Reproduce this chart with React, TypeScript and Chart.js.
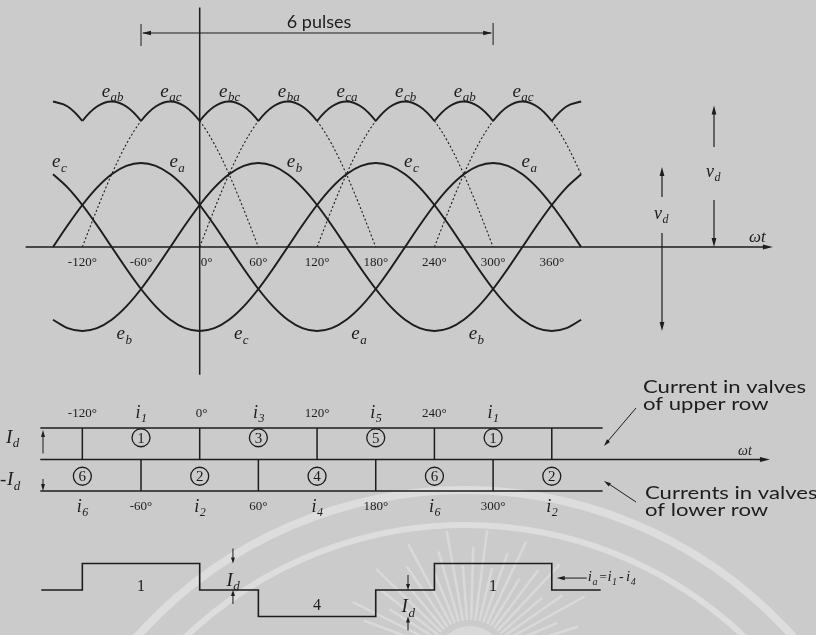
import { useEffect, useRef } from "react";
import { Chart, registerables } from "chart.js";

Chart.register(...registerables);

const W = 816;
const H = 635;
const BG = "#cbcbcb";
const INK = "#1d1d1d";
const SERIF = '"Liberation Serif", "DejaVu Serif", serif';
const SANS = 'Lato, "Open Sans", sans-serif';

// ωt sampling grid, degrees
const wt = [-150, -135, -120, -105, -90, -75, -60, -45, -30, -15, 0, 15, 30, 45, 60, 75, 90, 105, 120, 135, 150, 165, 180, 195, 210, 225, 240, 255, 270, 285, 300, 315, 330, 345, 360, 375, 390];

// phase voltages (per unit of phase peak)
const eA = [0, 0.259, 0.5, 0.707, 0.866, 0.966, 1, 0.966, 0.866, 0.707, 0.5, 0.259, 0, -0.259, -0.5, -0.707, -0.866, -0.966, -1, -0.966, -0.866, -0.707, -0.5, -0.259, 0, 0.259, 0.5, 0.707, 0.866, 0.966, 1, 0.966, 0.866, 0.707, 0.5, 0.259, 0];
const eB = [-0.866, -0.966, -1, -0.966, -0.866, -0.707, -0.5, -0.259, 0, 0.259, 0.5, 0.707, 0.866, 0.966, 1, 0.966, 0.866, 0.707, 0.5, 0.259, 0, -0.259, -0.5, -0.707, -0.866, -0.966, -1, -0.966, -0.866, -0.707, -0.5, -0.259, 0, 0.259, 0.5, 0.707, 0.866];
const eC = [0.866, 0.707, 0.5, 0.259, 0, -0.259, -0.5, -0.707, -0.866, -0.966, -1, -0.966, -0.866, -0.707, -0.5, -0.259, 0, 0.259, 0.5, 0.707, 0.866, 0.966, 1, 0.966, 0.866, 0.707, 0.5, 0.259, 0, -0.259, -0.5, -0.707, -0.866, -0.966, -1, -0.966, -0.866];

// line-to-line voltages (same per-unit base)
const eAB = [0.866, 1.225, 1.5, 1.673, 1.732, 1.673, 1.5, 1.225, 0.866, 0.448, 0, -0.448, -0.866, -1.225, -1.5, -1.673, -1.732, -1.673, -1.5, -1.225, -0.866, -0.448, 0, 0.448, 0.866, 1.225, 1.5, 1.673, 1.732, 1.673, 1.5, 1.225, 0.866, 0.448, 0, -0.448, -0.866];
const eBA = [-0.866, -1.225, -1.5, -1.673, -1.732, -1.673, -1.5, -1.225, -0.866, -0.448, 0, 0.448, 0.866, 1.225, 1.5, 1.673, 1.732, 1.673, 1.5, 1.225, 0.866, 0.448, 0, -0.448, -0.866, -1.225, -1.5, -1.673, -1.732, -1.673, -1.5, -1.225, -0.866, -0.448, 0, 0.448, 0.866];
const eAC = [-0.866, -0.448, 0, 0.448, 0.866, 1.225, 1.5, 1.673, 1.732, 1.673, 1.5, 1.225, 0.866, 0.448, 0, -0.448, -0.866, -1.225, -1.5, -1.673, -1.732, -1.673, -1.5, -1.225, -0.866, -0.448, 0, 0.448, 0.866, 1.225, 1.5, 1.673, 1.732, 1.673, 1.5, 1.225, 0.866];
const eCA = [0.866, 0.448, 0, -0.448, -0.866, -1.225, -1.5, -1.673, -1.732, -1.673, -1.5, -1.225, -0.866, -0.448, 0, 0.448, 0.866, 1.225, 1.5, 1.673, 1.732, 1.673, 1.5, 1.225, 0.866, 0.448, 0, -0.448, -0.866, -1.225, -1.5, -1.673, -1.732, -1.673, -1.5, -1.225, -0.866];
const eBC = [-1.732, -1.673, -1.5, -1.225, -0.866, -0.448, 0, 0.448, 0.866, 1.225, 1.5, 1.673, 1.732, 1.673, 1.5, 1.225, 0.866, 0.448, 0, -0.448, -0.866, -1.225, -1.5, -1.673, -1.732, -1.673, -1.5, -1.225, -0.866, -0.448, 0, 0.448, 0.866, 1.225, 1.5, 1.673, 1.732];
const eCB = [1.732, 1.673, 1.5, 1.225, 0.866, 0.448, 0, -0.448, -0.866, -1.225, -1.5, -1.673, -1.732, -1.673, -1.5, -1.225, -0.866, -0.448, 0, 0.448, 0.866, 1.225, 1.5, 1.673, 1.732, 1.673, 1.5, 1.225, 0.866, 0.448, 0, -0.448, -0.866, -1.225, -1.5, -1.673, -1.732];

const lineKeys = ["ab", "ba", "ac", "ca", "bc", "cb"];
const lineValues = [eAB, eBA, eAC, eCA, eBC, eCB];

// continuation of a line voltage below the rectified envelope (dotted)
const dottedSpans: Record<string, number[][]> = {
  ac: [[-120, -60], [0, 60], [240, 300], [360, 390]],
  ba: [[0, 60], [120, 180]],
  cb: [[120, 180], [240, 300]],
};

// labels on the rectified envelope, placed at each line voltage's peak
const envelopePeaks = [-90, -30, 30, 90, 150, 210, 270, 330];
const envelopeNames = ["ab", "ac", "bc", "ba", "ca", "cb", "ab", "ac"];

// phase labels: peaks and troughs of e_a, e_b, e_c
const phasePeaks = [-180, -60, 60, 180, 300];
const phasePeakNames = ["c", "a", "b", "c", "a"];
const phaseTroughs = [-120, 0, 120, 240];
const phaseTroughNames = ["b", "c", "a", "b"];

const degTicks = [-120, -60, 0, 60, 120, 180, 240, 300, 360];
const pulseSpan = [-60, 300];

// valve conduction, upper and lower rows
const rowSpan = [-163, 412];
const upperSwitch = [-120, 0, 120, 240, 360];
const upperValves = [1, 3, 5, 1];
const lowerSwitch = [-180, -60, 60, 180, 300, 420];
const lowerValves = [6, 2, 4, 6, 2];

// phase-a line current  i_a = i_1 - i_4  (in units of I_d)
const iaAngles = [-162, -120, 0, 60, 180, 240, 360, 410];
const iaLevels = [0, 1, 0, -1, 0, 1, 0, 0];
const iaPulseAt = [-60, 120, 300];
const iaPulseName = ["1", "4", "1"];
const idMarkAt = [34, 213];

// page layout (pixels)
const L = {
  zeroPx: 199.7,
  pxPerDeg: 0.978,
  vZero: 247,
  vUnit: 84,
  rowZero: 459.5,
  rowUnit: 31.5,
  iaZero: 590,
  iaUnit: 26.5,
};

const axisTop = [-178, 583];
const rowAxisEnd = 581;

function stroke(ctx: CanvasRenderingContext2D, x1: number, y1: number, x2: number, y2: number, w: number) {
  ctx.lineWidth = w;
  ctx.beginPath();
  ctx.moveTo(x1, y1);
  ctx.lineTo(x2, y2);
  ctx.stroke();
}

function head(ctx: CanvasRenderingContext2D, x: number, y: number, ang: number, len = 8, half = 2.6) {
  ctx.save();
  ctx.translate(x, y);
  ctx.rotate(ang);
  ctx.beginPath();
  ctx.moveTo(0, 0);
  ctx.lineTo(-len, -half);
  ctx.lineTo(-len, half);
  ctx.closePath();
  ctx.fill();
  ctx.restore();
}

function subLabel(ctx: CanvasRenderingContext2D, x: number, y: number, main: string, sub: string, size: number, align = "left") {
  const mf = `italic ${size}px ${SERIF}`;
  const sf = `italic ${Math.round(size * 0.66)}px ${SERIF}`;
  ctx.font = mf;
  const w1 = ctx.measureText(main).width;
  ctx.font = sf;
  const w2 = ctx.measureText(sub).width;
  const x0 = align === "center" ? x - (w1 + w2) / 2 : x;
  ctx.textAlign = "left";
  ctx.font = mf;
  ctx.fillText(main, x0, y);
  ctx.font = sf;
  ctx.fillText(sub, x0 + w1 + 0.5, y + size * 0.24);
  return w1 + w2 + 0.5;
}

function plain(ctx: CanvasRenderingContext2D, x: number, y: number, text: string, font: string, align: CanvasTextAlign = "center") {
  ctx.font = font;
  ctx.textAlign = align;
  ctx.fillText(text, x, y);
}

const backdrop = {
  id: "backdrop",
  beforeDraw(chart: any) {
    const ctx: CanvasRenderingContext2D = chart.ctx;
    ctx.save();
    ctx.fillStyle = BG;
    ctx.fillRect(0, 0, W, H);
    // faint library stamp in the lower half of the page
    ctx.strokeStyle = "rgba(236,236,236,0.55)";
    ctx.lineWidth = 8;
    ctx.beginPath();
    ctx.arc(465, 930, 440, Math.PI * 1.12, Math.PI * 1.9);
    ctx.stroke();
    ctx.lineWidth = 6;
    ctx.beginPath();
    ctx.arc(465, 930, 405, Math.PI * 1.15, Math.PI * 1.87);
    ctx.stroke();
    ctx.lineWidth = 2.5;
    ctx.strokeStyle = "rgba(236,236,236,0.45)";
    for (let k = 0; k < 26; k++) {
      const a = Math.PI * (1.08 + k * 0.033);
      const r0 = 40;
      const r1 = 95 + (k % 3) * 18;
      ctx.beginPath();
      ctx.moveTo(470 + r0 * Math.cos(a), 660 + r0 * Math.sin(a));
      ctx.lineTo(470 + r1 * Math.cos(a), 660 + r1 * Math.sin(a));
      ctx.stroke();
    }
    ctx.fillStyle = "rgba(236,236,236,0.45)";
    ctx.beginPath();
    ctx.arc(470, 660, 34, 0, Math.PI * 2);
    ctx.fill();
    ctx.restore();
  },
};

const annotations = {
  id: "annotations",
  afterDatasetsDraw(chart: any) {
    const ctx: CanvasRenderingContext2D = chart.ctx;
    const X = (a: number) => chart.scales.x.getPixelForValue(a);
    const YV = (v: number) => chart.scales.yV.getPixelForValue(v);
    const YR = (v: number) => chart.scales.yR.getPixelForValue(v);
    const YI = (v: number) => chart.scales.yI.getPixelForValue(v);
    ctx.save();
    ctx.fillStyle = INK;
    ctx.strokeStyle = INK;
    ctx.textBaseline = "alphabetic";
    ctx.lineCap = "butt";

    // ωt axis and the 0° reference line of the voltage plot
    stroke(ctx, X(axisTop[0]), YV(0), X(axisTop[1]) - 4, YV(0), 1.6);
    head(ctx, X(axisTop[1]) + 3, YV(0), 0, 10, 2.6);
    stroke(ctx, X(0), YV(2.85), X(0), YV(-1.52), 1.5);

    degTicks.forEach((a) => {
      plain(ctx, X(a) + (a === 0 ? 7 : 0), YV(0) + 19, `${a}\u00b0`, `13px ${SERIF}`);
    });

    // pulse bracket
    const by = 33;
    stroke(ctx, X(pulseSpan[0]) + 2, by, X(pulseSpan[1]) - 2, by, 1);
    head(ctx, X(pulseSpan[0]) + 1, by, Math.PI, 9, 2.2);
    head(ctx, X(pulseSpan[1]) - 1, by, 0, 9, 2.2);
    stroke(ctx, X(pulseSpan[0]), by - 9, X(pulseSpan[0]), by + 13, 1);
    stroke(ctx, X(pulseSpan[1]), by - 10, X(pulseSpan[1]), by + 12, 1);
    plain(ctx, (X(pulseSpan[0]) + X(pulseSpan[1])) / 2 + 2, 28, "6 pulses", `18px ${SANS}`);

    // voltage labels
    const envTop = YV(Math.max(...eAB));
    envelopePeaks.forEach((a, k) => subLabel(ctx, X(a) - 10, envTop - 5, "e", envelopeNames[k], 19));
    phasePeaks.forEach((a, k) => subLabel(ctx, X(a + 29), YV(1) + 4, "e", phasePeakNames[k], 19));
    phaseTroughs.forEach((a, k) => subLabel(ctx, X(a + 35), YV(-1) + 8, "e", phaseTroughNames[k], 19));

    subLabel(ctx, 749, YV(0) - 5, "\u03c9t", "", 17);

    // v_d arrows
    const xs = 662;
    stroke(ctx, xs, 197, xs, YV(1) + 12, 1.2);
    head(ctx, xs, YV(1) + 4, -Math.PI / 2, 9, 2.4);
    subLabel(ctx, xs - 8, 219, "v", "d", 18);
    stroke(ctx, xs, 233, xs, YV(-1) - 8, 1.2);
    head(ctx, xs, YV(-1), Math.PI / 2, 9, 2.4);
    const xt = 714;
    stroke(ctx, xt, 147, xt, YV(Math.max(...eAB)) + 12, 1.2);
    head(ctx, xt, YV(Math.max(...eAB)) + 4, -Math.PI / 2, 9, 2.4);
    subLabel(ctx, xt - 8, 177, "v", "d", 18);
    stroke(ctx, xt, 200, xt, YV(0) - 8, 1.2);
    head(ctx, xt, YV(0), Math.PI / 2, 9, 2.4);

    // valve rows
    head(ctx, X(rowAxisEnd) + 2, YR(0), 0, 10, 2.4);
    upperValves.forEach((v, k) => {
      const c = (upperSwitch[k] + upperSwitch[k + 1]) / 2;
      ctx.lineWidth = 1.3;
      ctx.beginPath();
      ctx.arc(X(c), YR(0.5) - 6, 9, 0, Math.PI * 2);
      ctx.stroke();
      plain(ctx, X(c), YR(0.5) - 0.8, String(v), `15px ${SERIF}`);
      subLabel(ctx, X(c), YR(1) - 10, "i", String(v), 18, "center");
    });
    upperSwitch.slice(0, 4).forEach((a) => plain(ctx, X(a) + (a === 0 ? 2 : 0), YR(1) - 11, `${a}\u00b0`, `13px ${SERIF}`));
    lowerValves.forEach((v, k) => {
      const c = (lowerSwitch[k] + lowerSwitch[k + 1]) / 2;
      ctx.lineWidth = 1.3;
      ctx.beginPath();
      ctx.arc(X(c), YR(-0.5) + 1, 9, 0, Math.PI * 2);
      ctx.stroke();
      plain(ctx, X(c), YR(-0.5) + 6.2, String(v), `15px ${SERIF}`);
      subLabel(ctx, X(c), YR(-1) + 21, "i", String(v), 18, "center");
    });
    lowerSwitch.slice(1, 5).forEach((a) => plain(ctx, X(a), YR(-1) + 19, `${a}\u00b0`, `13px ${SERIF}`));

    subLabel(ctx, 6, YR(0.5) - 1, "I", "d", 19);
    stroke(ctx, 43, YR(0) - 6, 43, YR(1) + 8, 1);
    head(ctx, 43, YR(1) + 2, -Math.PI / 2, 7, 2);
    plain(ctx, 0, YR(-0.5) + 10, "-", `19px ${SERIF}`, "left");
    subLabel(ctx, 7, YR(-0.5) + 10, "I", "d", 19);
    stroke(ctx, 43, YR(-1) - 12, 43, YR(-1) - 6, 1);
    head(ctx, 43, YR(-1), Math.PI / 2, 7, 2);

    subLabel(ctx, 738, YR(0) - 5, "\u03c9t", "", 14);

    // row captions
    ctx.font = `18px ${SANS}`;
    const k = 163 / ctx.measureText("Current in valves").width;
    const caption = (t: string, x: number, y: number) => {
      ctx.save();
      ctx.font = `18px ${SANS}`;
      ctx.textAlign = "left";
      ctx.translate(x, y);
      ctx.scale(k, 1);
      ctx.fillText(t, 0, 0);
      ctx.restore();
    };
    caption("Current in valves", 643, 393);
    caption("of upper row", 643, 410);
    caption("Currents in valves", 645, 499);
    caption("of lower row", 645, 516);
    stroke(ctx, 636, 408, 608, 441, 1);
    head(ctx, 604, 446, Math.atan2(446 - 408, 604 - 636), 7, 2);
    stroke(ctx, 636, 502, 609, 484, 1);
    head(ctx, 604, 481, Math.atan2(481 - 502, 604 - 636), 7, 2);

    // line current annotations
    iaPulseAt.forEach((a, j) => {
      const lvl = iaLevels[iaAngles.findIndex((s) => s > a) - 1];
      const y = lvl > 0 ? YI(0) + 1 : YI(-1) - 7;
      plain(ctx, X(a), y, iaPulseName[j], `16px ${SERIF}`);
    });
    idMarkAt.forEach((a, j) => {
      const hi = j === 0 ? 1 : 0;
      const lo = hi - 1;
      stroke(ctx, X(a), YI(hi) - 15, X(a), YI(hi) - 5, 1);
      head(ctx, X(a), YI(hi), Math.PI / 2, 6, 2);
      subLabel(ctx, X(a), YI((hi + lo) / 2) + 9, "I", "d", 19, "center");
      stroke(ctx, X(a), YI(lo) + 14, X(a), YI(lo) + 5, 1);
      head(ctx, X(a), YI(lo), -Math.PI / 2, 6, 2);
    });
    const ax = X(360);
    stroke(ctx, ax + 12, YI(0.45), ax + 35, YI(0.45), 1);
    head(ctx, ax + 5, YI(0.45), Math.PI, 8, 2.2);
    let tx = ax + 36;
    tx += subLabel(ctx, tx, YI(0.45) + 3, "i", "a", 15);
    plain(ctx, tx + 2, YI(0.45) + 3, "=", `13px ${SERIF}`, "left");
    tx += 10;
    tx += subLabel(ctx, tx, YI(0.45) + 3, "i", "1", 15);
    plain(ctx, tx + 2, YI(0.45) + 3, "-", `14px ${SERIF}`, "left");
    tx += 9;
    subLabel(ctx, tx, YI(0.45) + 3, "i", "4", 15);

    ctx.restore();
  },
};

function lineStyle(key: string, i0: number, i1: number, a0: number, a1: number) {
  const idx = lineKeys.indexOf(key);
  const onTop = (i: number) => {
    const m = Math.max(...lineValues.map((v) => v[i]));
    return Math.abs(lineValues[idx][i] - m) < 1e-6;
  };
  if (onTop(i0) && onTop(i1)) return "solid";
  const spans = dottedSpans[key] || [];
  if (spans.some(([s, e]) => a0 >= s && a1 <= e)) return "dot";
  return "none";
}

function buildConfig(): any {
  const pts = (vals: number[]) => wt.map((a, i) => ({ x: a, y: vals[i] }));
  const base = { pointRadius: 0, borderColor: INK, fill: false, tension: 0 };

  const phaseSets = [eA, eB, eC].map((v) => ({
    ...base,
    data: pts(v),
    yAxisID: "yV",
    borderWidth: 2,
    cubicInterpolationMode: "monotone",
  }));

  const lineSets = lineValues.map((v, j) => ({
    ...base,
    data: pts(v),
    yAxisID: "yV",
    borderWidth: 2,
    cubicInterpolationMode: "monotone",
    segment: {
      borderColor: (c: any) =>
        lineStyle(lineKeys[j], c.p0DataIndex, c.p1DataIndex, c.p0.parsed.x, c.p1.parsed.x) === "none" ? "rgba(0,0,0,0)" : INK,
      borderDash: (c: any) =>
        lineStyle(lineKeys[j], c.p0DataIndex, c.p1DataIndex, c.p0.parsed.x, c.p1.parsed.x) === "dot" ? [2, 2.2] : [],
      borderWidth: (c: any) =>
        lineStyle(lineKeys[j], c.p0DataIndex, c.p1DataIndex, c.p0.parsed.x, c.p1.parsed.x) === "dot" ? 1.1 : 2,
    },
  }));

  const rowLine = (y: number, x0: number, x1: number) => ({
    ...base,
    data: [{ x: x0, y }, { x: x1, y }],
    yAxisID: "yR",
    borderWidth: 1.5,
  });
  const dividers = (angles: number[], y0: number, y1: number) => ({
    ...base,
    data: angles
      .filter((a) => a > rowSpan[0] && a < rowSpan[1])
      .flatMap((a) => [{ x: a, y: y0 }, { x: a, y: y1 }, { x: a, y: null }]),
    yAxisID: "yR",
    borderWidth: 1.5,
    spanGaps: false,
  });

  const iaSet = {
    ...base,
    data: iaAngles.map((a, i) => ({ x: a, y: iaLevels[i] })),
    yAxisID: "yI",
    borderWidth: 1.6,
    stepped: "before",
  };

  const yScale = (zero: number, unit: number) => ({
    type: "linear",
    display: false,
    min: -(H - zero) / unit,
    max: zero / unit,
  });

  return {
    type: "line",
    data: {
      datasets: [
        ...phaseSets,
        ...lineSets,
        rowLine(1, rowSpan[0], rowSpan[1]),
        rowLine(0, rowSpan[0], rowAxisEnd - 3),
        rowLine(-1, rowSpan[0], rowSpan[1]),
        dividers(upperSwitch, 0, 1),
        dividers(lowerSwitch, -1, 0),
        iaSet,
      ],
    },
    options: {
      responsive: false,
      maintainAspectRatio: false,
      animation: false,
      devicePixelRatio: 1,
      events: [],
      layout: { padding: 0 },
      plugins: { legend: { display: false }, tooltip: { enabled: false }, title: { display: false } },
      scales: {
        x: {
          type: "linear",
          display: false,
          min: -L.zeroPx / L.pxPerDeg,
          max: (W - L.zeroPx) / L.pxPerDeg,
        },
        yV: yScale(L.vZero, L.vUnit),
        yR: yScale(L.rowZero, L.rowUnit),
        yI: yScale(L.iaZero, L.iaUnit),
      },
    },
    plugins: [backdrop, annotations],
  };
}

export default function App() {
  const ref = useRef<HTMLCanvasElement>(null);
  useEffect(() => {
    const chart = new Chart(ref.current as HTMLCanvasElement, buildConfig());
    return () => chart.destroy();
  }, []);
  return (
    <div style={{ position: "fixed", left: 0, top: 0, width: W, height: H, background: BG, overflow: "hidden" }}>
      <canvas ref={ref} width={W} height={H} style={{ display: "block", width: W, height: H }} />
    </div>
  );
}
